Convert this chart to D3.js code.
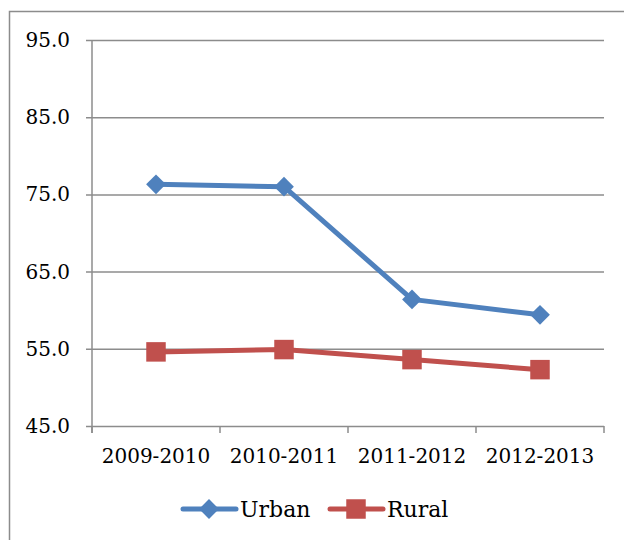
<!DOCTYPE html>
<html>
<head>
<meta charset="utf-8">
<script src="https://cdn.jsdelivr.net/npm/d3@7"></script>
<style>
  body { margin: 0; background: #fff; }
</style>
</head>
<body>
<div id="chart"></div>
<script>
// Data
const categories = ["2009-2010", "2010-2011", "2011-2012", "2012-2013"]
const urban = [76.3, 76.0, 61.4, 59.4]
const rural = [54.6, 54.9, 53.6, 52.3]
const yTicks = [45, 55, 65, 75, 85, 95]
const seriesNames = ["Urban", "Rural"]

// Settings
const SIZE = [624, 540]
const MARGIN = {top: 40, right: 20, bottom: 114, left: 92}
const FONT = "DejaVu Serif"
const COLORS = {Urban: "#4F81BD", Rural: "#C0504D"}
const GRID = "#8c8c8c"

const diamond = d3.symbol(d3.symbolDiamond2, 250)
const square = d3.symbol(d3.symbolSquare, 380)

const svg = d3.select("#chart").append("svg")
  .attr("width", SIZE[0])
  .attr("height", SIZE[1])

// outer chart border
svg.append("rect")
  .attr("x", 9.5).attr("y", 11.5)
  .attr("width", 640).attr("height", 560)
  .attr("fill", "none")
  .attr("stroke", GRID)
  .attr("stroke-width", 1.5)

const scaleX = d3.scaleBand()
  .domain(categories)
  .range([MARGIN.left, SIZE[0] - MARGIN.right])

const scaleY = d3.scaleLinear()
  .domain([45, 95])
  .range([SIZE[1] - MARGIN.bottom, MARGIN.top])

// y axis with gridlines
svg.append("g")
  .attr("transform", `translate(${MARGIN.left},0)`)
  .call(d3.axisLeft(scaleY).tickValues(yTicks).tickFormat(d3.format(".1f"))
    .tickSize(-(SIZE[0] - MARGIN.left - MARGIN.right)).tickPadding(22))
  .call(g => g.select(".domain").remove())
  .call(g => g.selectAll(".tick line").attr("stroke", GRID).attr("stroke-width", 1.5).attr("x1", -6))
  .call(g => g.selectAll(".tick text")
    .attr("font-family", FONT).attr("font-size", 20).attr("fill", "#000"))

// y axis line
svg.append("line")
  .attr("x1", MARGIN.left).attr("x2", MARGIN.left)
  .attr("y1", scaleY(95)).attr("y2", scaleY(45) + 7)
  .attr("stroke", GRID).attr("stroke-width", 1.5)

// x axis ticks between categories
const xBounds = categories.map(c => scaleX(c)).concat([scaleX.range()[1]])
svg.append("g")
  .selectAll("line")
  .data(xBounds)
  .join("line")
    .attr("x1", d => d).attr("x2", d => d)
    .attr("y1", scaleY(45)).attr("y2", scaleY(45) + 7)
    .attr("stroke", GRID).attr("stroke-width", 1.5)

svg.append("g")
  .selectAll("text")
  .data(categories)
  .join("text")
    .attr("x", d => scaleX(d) + scaleX.bandwidth() / 2)
    .attr("y", 463)
    .attr("text-anchor", "middle")
    .attr("font-family", FONT)
    .attr("font-size", 20)
    .text(d => d)

const cx = d => scaleX(d) + scaleX.bandwidth() / 2
const line = d3.line()
  .x((d, i) => cx(categories[i]))
  .y(d => scaleY(d))

const series = [{name: "Urban", values: urban}, {name: "Rural", values: rural}]

series.forEach(s => {
  svg.append("path")
    .datum(s.values)
    .attr("fill", "none")
    .attr("stroke", COLORS[s.name])
    .attr("stroke-width", 5)
    .attr("stroke-linejoin", "round")
    .attr("d", line)

  svg.append("g")
    .selectAll("path")
    .data(s.values)
    .join("path")
      .attr("transform", (d, i) => `translate(${cx(categories[i])},${scaleY(d)})`)
      .attr("d", s.name === "Urban" ? diamond : square)
      .attr("fill", COLORS[s.name])
})

// legend
const legendX = [183, 330]
const legendY = 509
const legend = svg.append("g")
  .selectAll("g")
  .data(seriesNames)
  .join("g")
    .attr("transform", (d, i) => `translate(${legendX[i]},${legendY})`)

legend.append("line")
  .attr("x1", 0).attr("x2", 53)
  .attr("stroke", d => COLORS[d])
  .attr("stroke-width", 5)
  .attr("stroke-linecap", "round")

legend.append("path")
  .attr("transform", "translate(26,0)")
  .attr("d", d => d === "Urban" ? diamond() : square())
  .attr("fill", d => COLORS[d])

legend.append("text")
  .attr("x", 57)
  .attr("y", 8)
  .attr("font-family", FONT)
  .attr("font-size", 22)
  .text(d => d)
</script>
</body>
</html>
